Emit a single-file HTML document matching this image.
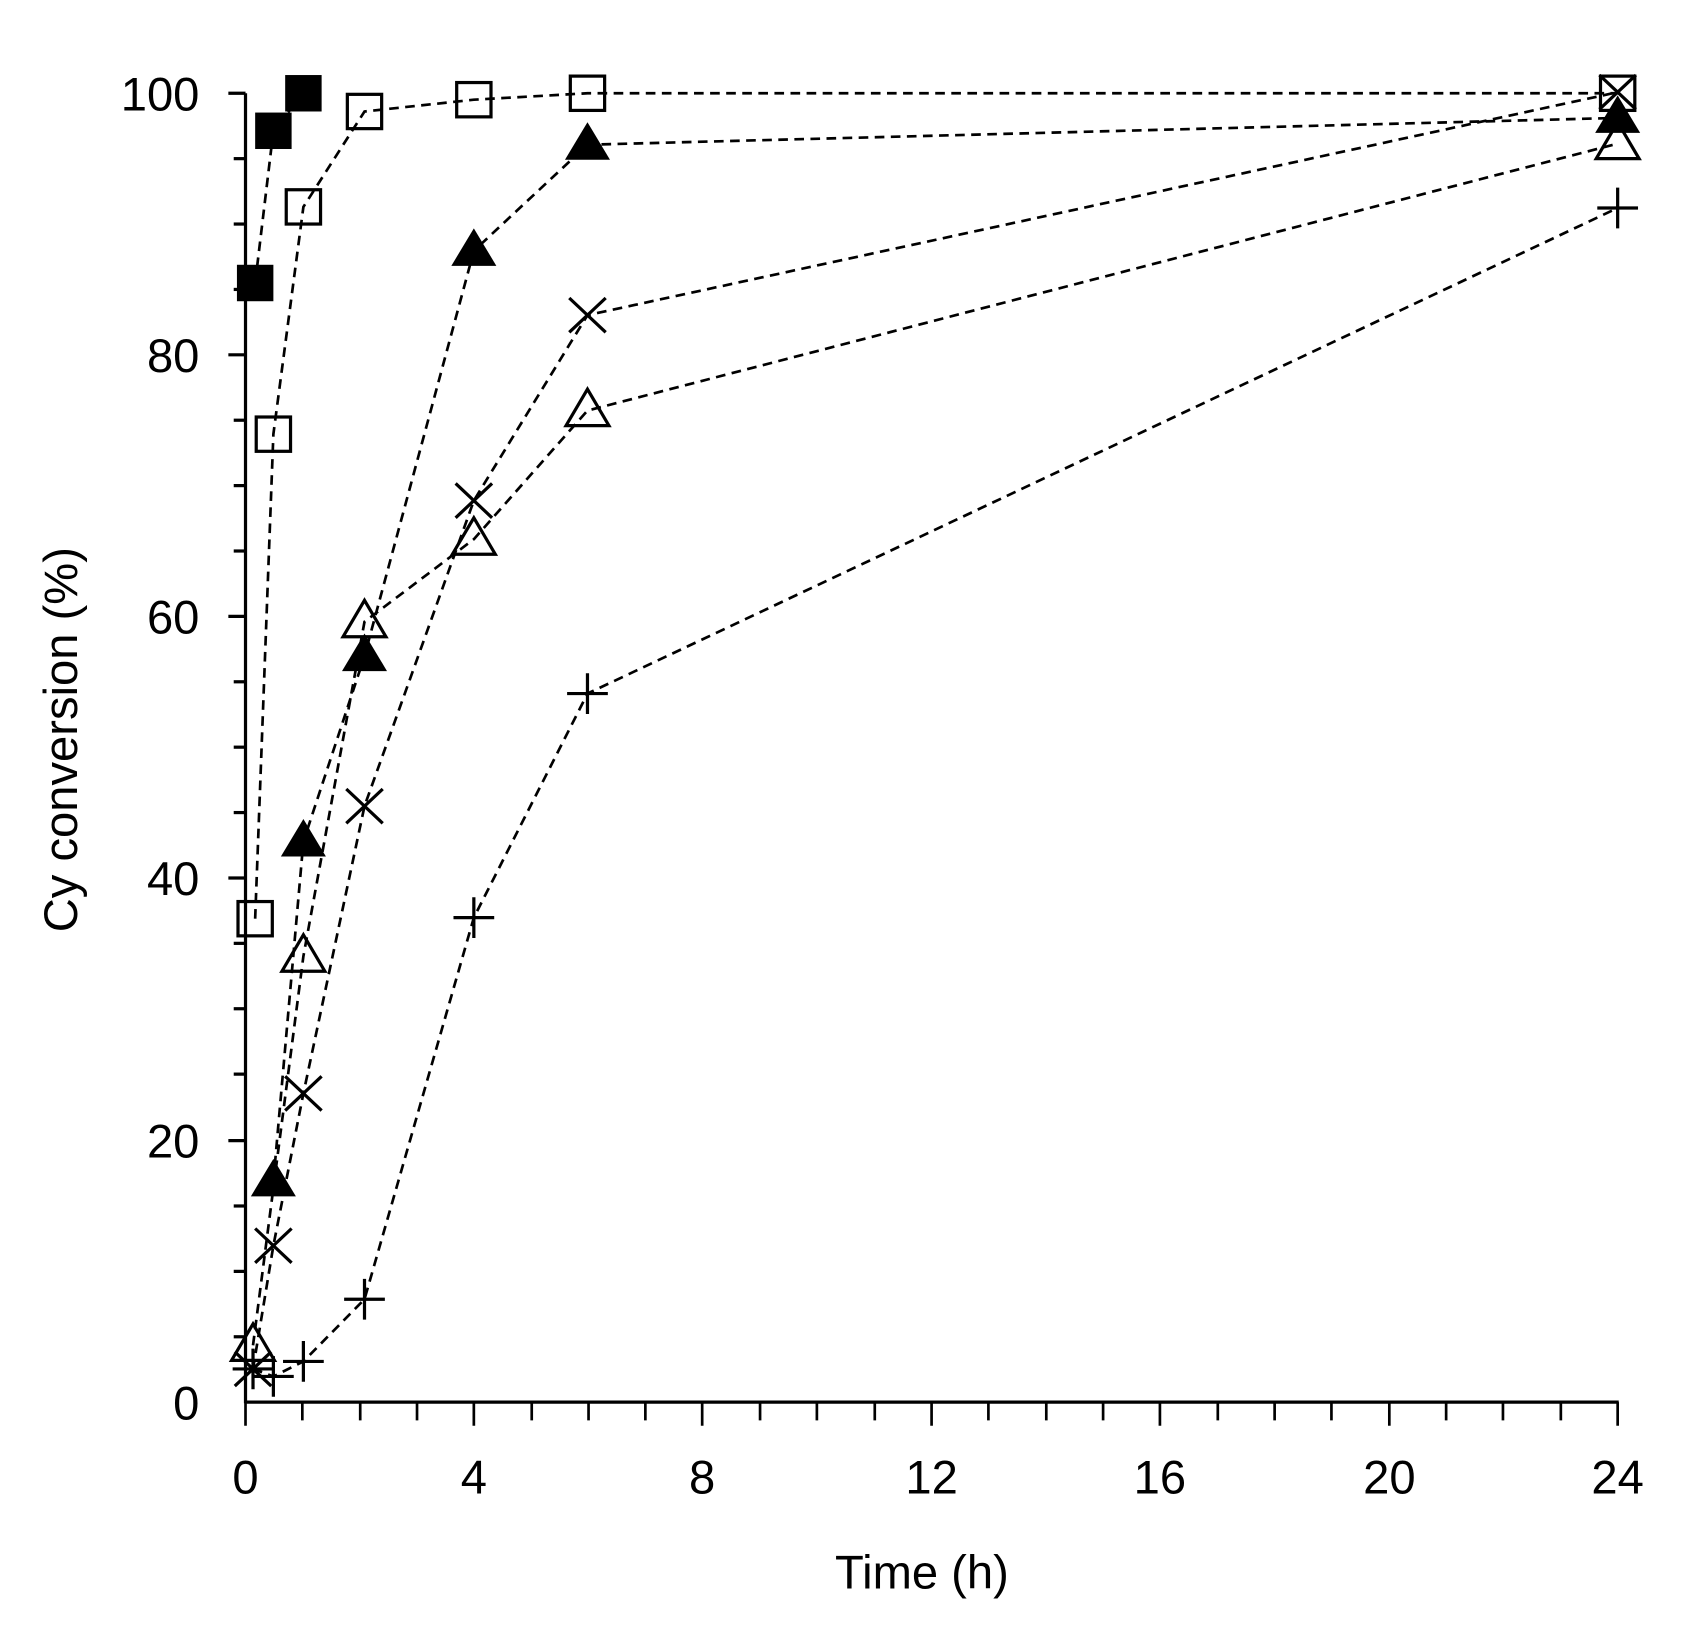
<!DOCTYPE html>
<html><head><meta charset="utf-8"><style>html,body{margin:0;padding:0;background:#fff}</style></head>
<body>
<svg width="1682" height="1638" viewBox="0 0 1569 1528" xmlns="http://www.w3.org/2000/svg" style="display:block">
<defs>
<rect id="fs" x="-17" y="-17" width="34" height="34" fill="#000"/>
<rect id="os" x="-16" y="-16" width="32" height="32" fill="none" stroke="#000" stroke-width="3"/>
<polygon id="ft" points="0,-21 21,14 -21,14" fill="#000"/>
<polygon id="ot" points="0,-20 20,14 -20,14" fill="none" stroke="#000" stroke-width="3"/>
<path id="xx" d="M-17,-16 L17,16 M-17,16 L17,-16" stroke="#000" stroke-width="3"/>
<path id="pl" d="M-19,0 L19,0 M0,-19 L0,19" stroke="#000" stroke-width="3"/>
</defs>
<g fill="none" stroke="#000" stroke-width="2.5" stroke-dasharray="9,6">
<polyline points="238,264 255,122 283,87"/>
<polyline points="238,857 255,405 283,193 340,104 442,93 548,87 1509,87"/>
<polyline points="255,1102 283,785 340,612 442,234 548,135 1509,110"/>
<polyline points="236,1255 283,892 340,580 442,503 548,383 1509,134"/>
<polyline points="236,1277 255,1162 283,1020 340,752 442,467 548,294 1509,86"/>
<polyline points="236,1277 255,1284 283,1270 340,1212 442,856 548,647 1509,194"/>
</g>
<g stroke="#000" stroke-width="3">
<line x1="229" y1="87" x2="229" y2="1309"/>
<line x1="228" y1="1308" x2="1510" y2="1308"/>
<line x1="213" y1="87" x2="229" y2="87"/><line x1="213" y1="331" x2="229" y2="331"/>
<line x1="213" y1="575" x2="229" y2="575"/><line x1="213" y1="819" x2="229" y2="819"/>
<line x1="213" y1="1064" x2="229" y2="1064"/>
<line x1="218" y1="148" x2="229" y2="148"/><line x1="218" y1="209" x2="229" y2="209"/><line x1="218" y1="270" x2="229" y2="270"/>
<line x1="218" y1="392" x2="229" y2="392"/><line x1="218" y1="453" x2="229" y2="453"/><line x1="218" y1="514" x2="229" y2="514"/>
<line x1="218" y1="636" x2="229" y2="636"/><line x1="218" y1="697" x2="229" y2="697"/><line x1="218" y1="758" x2="229" y2="758"/>
<line x1="218" y1="880" x2="229" y2="880"/><line x1="218" y1="941" x2="229" y2="941"/><line x1="218" y1="1002" x2="229" y2="1002"/>
<line x1="218" y1="1125" x2="229" y2="1125"/><line x1="218" y1="1186" x2="229" y2="1186"/><line x1="218" y1="1247" x2="229" y2="1247"/>
</g>
<g stroke="#000" stroke-width="2.5">
<line x1="229" y1="1308" x2="229" y2="1330"/><line x1="442" y1="1308" x2="442" y2="1330"/><line x1="655" y1="1308" x2="655" y2="1330"/>
<line x1="869" y1="1308" x2="869" y2="1330"/><line x1="1082" y1="1308" x2="1082" y2="1330"/><line x1="1296" y1="1308" x2="1296" y2="1330"/>
<line x1="1509" y1="1308" x2="1509" y2="1330"/>
<line x1="282" y1="1308" x2="282" y2="1325"/><line x1="336" y1="1308" x2="336" y2="1325"/><line x1="389" y1="1308" x2="389" y2="1325"/>
<line x1="496" y1="1308" x2="496" y2="1325"/><line x1="549" y1="1308" x2="549" y2="1325"/><line x1="602" y1="1308" x2="602" y2="1325"/>
<line x1="709" y1="1308" x2="709" y2="1325"/><line x1="762" y1="1308" x2="762" y2="1325"/><line x1="816" y1="1308" x2="816" y2="1325"/>
<line x1="922" y1="1308" x2="922" y2="1325"/><line x1="976" y1="1308" x2="976" y2="1325"/><line x1="1029" y1="1308" x2="1029" y2="1325"/>
<line x1="1136" y1="1308" x2="1136" y2="1325"/><line x1="1189" y1="1308" x2="1189" y2="1325"/><line x1="1242" y1="1308" x2="1242" y2="1325"/>
<line x1="1349" y1="1308" x2="1349" y2="1325"/><line x1="1402" y1="1308" x2="1402" y2="1325"/><line x1="1456" y1="1308" x2="1456" y2="1325"/>
</g>
<use href="#fs" x="238" y="264"/><use href="#fs" x="255" y="122"/><use href="#fs" x="283" y="87"/>
<use href="#os" x="238" y="857"/><use href="#os" x="255" y="405"/><use href="#os" x="283" y="193"/><use href="#os" x="340" y="104"/><use href="#os" x="442" y="93"/><use href="#os" x="548" y="87"/><use href="#os" x="1509" y="87"/>
<use href="#ft" x="255" y="1102"/><use href="#ft" x="283" y="785"/><use href="#ft" x="340" y="612"/><use href="#ft" x="442" y="234"/><use href="#ft" x="548" y="135"/><use href="#ft" x="1509" y="110"/>
<use href="#ot" x="236" y="1255"/><use href="#ot" x="283" y="892"/><use href="#ot" x="340" y="580"/><use href="#ot" x="442" y="503"/><use href="#ot" x="548" y="383"/><use href="#ot" x="1509" y="134"/>
<use href="#xx" x="236" y="1277"/><use href="#xx" x="255" y="1162"/><use href="#xx" x="283" y="1020"/><use href="#xx" x="340" y="752"/><use href="#xx" x="442" y="467"/><use href="#xx" x="548" y="294"/><use href="#xx" x="1509" y="86"/>
<use href="#pl" x="236" y="1277"/><use href="#pl" x="255" y="1284"/><use href="#pl" x="283" y="1270"/><use href="#pl" x="340" y="1212"/><use href="#pl" x="442" y="856"/><use href="#pl" x="548" y="647"/><use href="#pl" x="1509" y="194"/>
<g font-family="Liberation Sans, sans-serif" font-size="44" fill="#000">
<g text-anchor="end">
<text x="186" y="103">100</text><text x="186" y="347">80</text><text x="186" y="591">60</text>
<text x="186" y="835">40</text><text x="186" y="1080">20</text><text x="186" y="1324">0</text>
</g>
<g text-anchor="middle">
<text x="229" y="1393">0</text><text x="442" y="1393">4</text><text x="655" y="1393">8</text>
<text x="869" y="1393">12</text><text x="1082" y="1393">16</text><text x="1296" y="1393">20</text><text x="1509" y="1393">24</text>
<text x="860" y="1482">Time (h)</text>
<text transform="translate(72,690) rotate(-90)">Cy conversion (%)</text>
</g>
</g>
</svg>
</body></html>
